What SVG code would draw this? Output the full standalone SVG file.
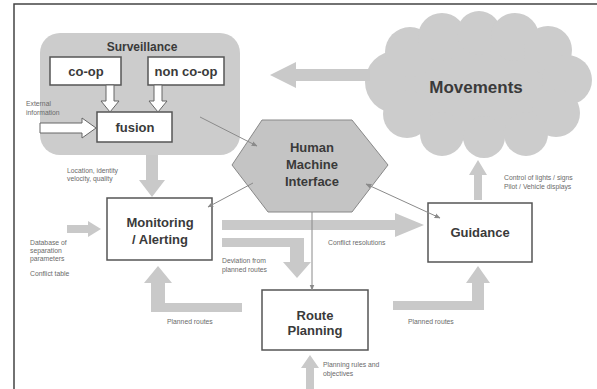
<svg xmlns="http://www.w3.org/2000/svg" width="597" height="389" viewBox="0 0 597 389">
  <style>
    .box { fill: #ffffff; stroke: #555555; stroke-width: 1.5; }
    .lbl { font-family: "Liberation Sans", Arial, sans-serif; font-weight: bold; font-size: 13px; fill: #3a3a3a; text-anchor: middle; }
    .note { font-family: "Liberation Sans", Arial, sans-serif; font-size: 6.8px; fill: #6a6a6a; }
    .flow { fill: #c9c9c9; }
    .hollow { fill: #ffffff; stroke: #666666; stroke-width: 1; }
    .thin { stroke: #8a8a8a; stroke-width: 1; fill: none; }
  </style>
  <defs>
    <marker id="tip" viewBox="0 0 10 10" refX="9" refY="5" markerWidth="6" markerHeight="6" orient="auto-start-reverse">
      <path d="M0,1 L10,5 L0,9 z" fill="#8a8a8a"/>
    </marker>
  </defs>

  <rect width="597" height="389" fill="#ffffff"/>
  <!-- frame -->
  <path d="M14,389 V4 H597" fill="none" stroke="#444444" stroke-width="1.5"/>

  <!-- Surveillance -->
  <g id="surveillance">
    <rect x="40" y="33" width="200" height="122" rx="20" fill="#cccccc"/>
    <text class="lbl" x="142" y="51" style="font-size:12px">Surveillance</text>
  </g>
  <g id="coop">
    <rect class="box" x="50" y="57" width="71" height="28"/>
    <text class="lbl" x="86" y="76">co-op</text>
  </g>
  <g id="noncoop">
    <rect class="box" x="148" y="57" width="76" height="28"/>
    <text class="lbl" x="186" y="76">non co-op</text>
  </g>
  <g id="fusion">
    <rect class="box" x="97" y="112" width="75" height="30"/>
    <text class="lbl" x="135" y="132">fusion</text>
  </g>

  <!-- Movements cloud -->
  <g id="movements" fill="#cccccc">
    <ellipse cx="476" cy="86" rx="92" ry="55"/>
    <circle cx="396" cy="82" r="31"/>
    <circle cx="410" cy="52" r="25"/>
    <circle cx="442" cy="37" r="24"/>
    <circle cx="479" cy="33" r="22"/>
    <circle cx="515" cy="37" r="24"/>
    <circle cx="548" cy="50" r="24"/>
    <circle cx="567" cy="80" r="25"/>
    <circle cx="556" cy="113" r="24"/>
    <circle cx="526" cy="134" r="22"/>
    <circle cx="484" cy="137" r="21"/>
    <circle cx="442" cy="134" r="22"/>
    <circle cx="407" cy="114" r="24"/>
    <text class="lbl" x="476" y="93" style="font-size:17px">Movements</text>
  </g>

  <!-- Human Machine Interface -->
  <g id="hmi">
    <polygon points="232,165 262,120 352,120 388,165 352,212 268,212" fill="#c4c4c4" stroke="#888888" stroke-width="1"/>
    <text class="lbl" x="312" y="152">Human</text>
    <text class="lbl" x="312" y="169">Machine</text>
    <text class="lbl" x="312" y="186">Interface</text>
  </g>

  <g id="monitoring">
    <rect class="box" x="107" y="198" width="105" height="62"/>
    <text class="lbl" x="160" y="227">Monitoring</text>
    <text class="lbl" x="160" y="244">/ Alerting</text>
  </g>

  <g id="guidance">
    <rect class="box" x="428" y="203" width="104" height="59"/>
    <text class="lbl" x="480" y="237">Guidance</text>
  </g>

  <g id="routeplanning">
    <rect class="box" x="262" y="290" width="106" height="60"/>
    <text class="lbl" x="315" y="320">Route</text>
    <text class="lbl" x="315" y="335">Planning</text>
  </g>

  <!-- connectors -->
  <g id="connectors">
    <!-- sensor feeds into fusion -->
    <polygon class="hollow" points="106,85 114,85 114,101 119,101 110,112 101,101 106,101"/>
    <polygon class="hollow" points="154,85 162,85 162,101 167,101 158,112 149,101 154,101"/>
    <polygon class="hollow" points="40,123 82,123 82,118 96,128 82,138 82,133 40,133"/>

    <!-- thick flows -->
    <polygon class="flow" points="146,155 158,155 158,180 165,180 152,197 139,180 146,180"/>
    <polygon class="flow" points="370,69 296,69 296,62 270,75 296,88 296,81 370,81"/>
    <polygon class="flow" points="222,220 395,220 395,213 424,225 395,237 395,230 222,230"/>
    <polygon class="flow" points="222,238 304,238 304,262 311,262 297,278 283,262 290,262 290,247 222,247"/>
    <polygon class="flow" points="242,303 165,303 165,283 172,283 158,266 144,283 151,283 151,312 242,312"/>
    <polygon class="flow" points="393,301 472,301 472,283 466,283 478,266 490,283 484,283 484,310 393,310"/>
    <polygon class="flow" points="474,200 482,200 482,175 487,175 478,160 469,175 474,175"/>
    <polygon class="flow" points="67,225 88,225 88,221 101,229 88,237 88,233 67,233"/>
    <polygon class="flow" points="306,389 314,389 314,368 319,368 310,355 301,368 306,368"/>

    <!-- thin links to and from the HMI -->
    <line class="thin" x1="200" y1="117" x2="257" y2="146" marker-end="url(#tip)"/>
    <line class="thin" x1="253" y1="183" x2="208" y2="207" marker-end="url(#tip)"/>
    <line class="thin" x1="366" y1="184" x2="440" y2="218" marker-start="url(#tip)" marker-end="url(#tip)"/>
    <line class="thin" x1="312" y1="212" x2="312" y2="290" marker-end="url(#tip)"/>
  </g>

  <!-- annotations -->
  <g id="notes">
    <text class="note" x="26" y="106">External</text>
    <text class="note" x="26" y="115">information</text>
    <text class="note" x="67" y="173">Location, identity</text>
    <text class="note" x="67" y="181">velocity, quality</text>
    <text class="note" x="30" y="245">Database of</text>
    <text class="note" x="30" y="253">separation</text>
    <text class="note" x="30" y="261">parameters</text>
    <text class="note" x="30" y="276">Conflict table</text>
    <text class="note" x="222" y="263">Deviation from</text>
    <text class="note" x="222" y="272">planned routes</text>
    <text class="note" x="328" y="245">Conflict resolutions</text>
    <text class="note" x="167" y="324">Planned routes</text>
    <text class="note" x="408" y="324">Planned routes</text>
    <text class="note" x="323" y="367">Planning rules and</text>
    <text class="note" x="323" y="376">objectives</text>
    <text class="note" x="504" y="180">Control of lights / signs</text>
    <text class="note" x="504" y="189">Pilot / Vehicle displays</text>
  </g>
</svg>
